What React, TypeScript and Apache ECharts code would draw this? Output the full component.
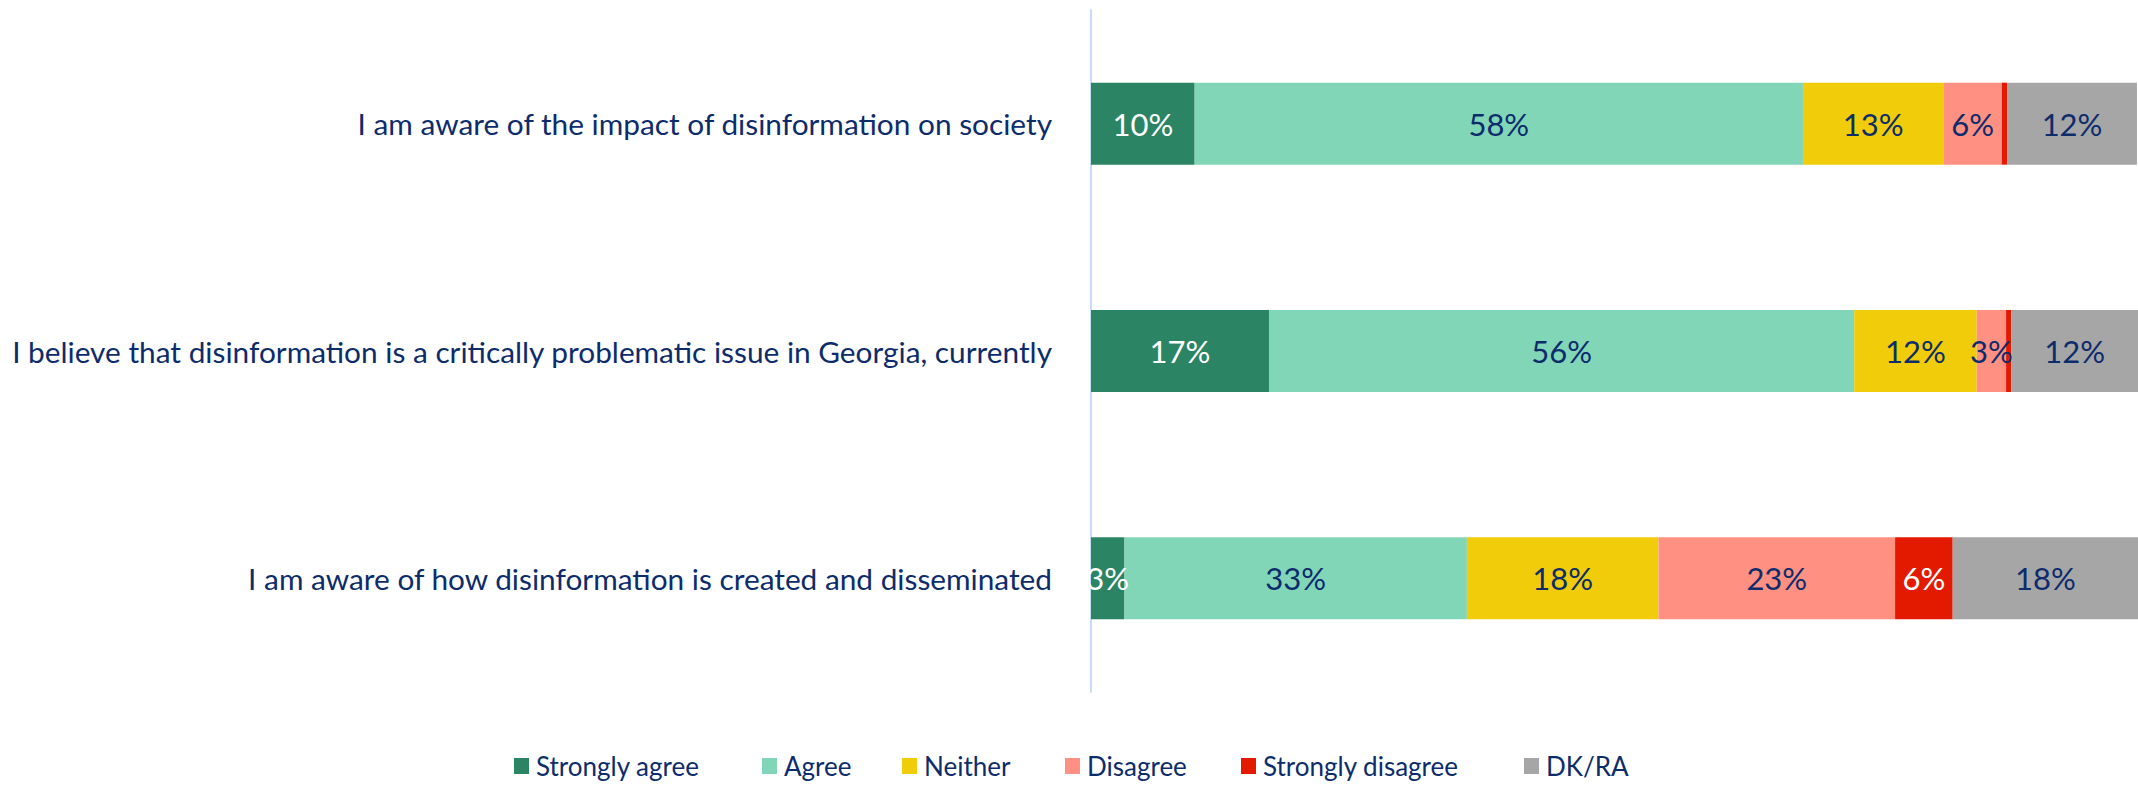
import React, { useEffect, useRef } from "react";
import * as echarts from "echarts";

const categories = [
  "I am aware of the impact of disinformation on society",
  "I believe that disinformation is a critically problematic issue in Georgia, currently",
  "I am aware of how disinformation is created and disseminated",
];

const seriesNames = ["Strongly agree", "Agree", "Neither", "Disagree", "Strongly disagree", "DK/RA"];

const stronglyAgree = [9.9, 17.0, 3.2];
const agree = [58.1, 55.9, 32.7];
const neither = [13.4, 11.7, 18.3];
const disagree = [5.6, 2.8, 22.6];
const stronglyDisagree = [0.5, 0.5, 5.5];
const dkra = [12.4, 12.1, 17.7];

const seriesValues = [stronglyAgree, agree, neither, disagree, stronglyDisagree, dkra];
const colors = ["#2B8565", "#82D6B8", "#F0CC0A", "#FF9082", "#E31A00", "#A6A6A6"];
const labelColors = ["#FFFFFF", "#0D2C6C", "#0D2C6C", "#0D2C6C", "#FFFFFF", "#0D2C6C"];
const legendLefts = [514, 762, 902, 1065, 1241, 1524];

const NAVY = "#0D2C6C";

export default function App() {
  const ref = useRef<HTMLDivElement>(null);
  useEffect(() => {
    if (!ref.current) return;
    const chart = echarts.init(ref.current, null, { renderer: "svg" });
    chart.setOption({
      animation: false,
      backgroundColor: "#FFFFFF",
      grid: { left: 1091, right: 0, top: 10, bottom: 93, containLabel: false },
      legend: seriesNames.map((name, i) => ({
        left: legendLefts[i],
        top: 753,
        itemWidth: 15,
        itemHeight: 16,
        icon: "rect",
        padding: 0,
        textStyle: { color: NAVY, fontSize: 26, fontFamily: "Lato", padding: [0, 0, 0, 2] },
        data: [name],
      })),
      xAxis: {
        type: "value",
        min: 0,
        max: 100,
        show: false,
      },
      yAxis: {
        type: "category",
        inverse: true,
        data: categories,
        axisLine: { show: true, lineStyle: { color: "#C5DDF8", width: 2 } },
        axisTick: { show: false },
        splitLine: { show: false },
        axisLabel: {
          margin: 39,
          color: NAVY,
          fontSize: 29.8,
          fontFamily: "Lato",
        },
      },
      series: seriesNames.map((name, i) => ({
        name,
        type: "bar",
        stack: "total",
        barWidth: 82,
        data: seriesValues[i],
        itemStyle: { color: colors[i] },
        label: {
          show: true,
          position: "inside",
          color: labelColors[i],
          fontSize: 31,
          fontFamily: "Lato",
          formatter: (p: any) => (p.value < 1.5 ? "" : Math.round(p.value) + "%"),
        },
      })),
    });
    return () => chart.dispose();
  }, []);
  return (
    <div
      ref={ref}
      style={{ position: "fixed", left: 0, top: 0, width: 2138, height: 785 }}
    />
  );
}
